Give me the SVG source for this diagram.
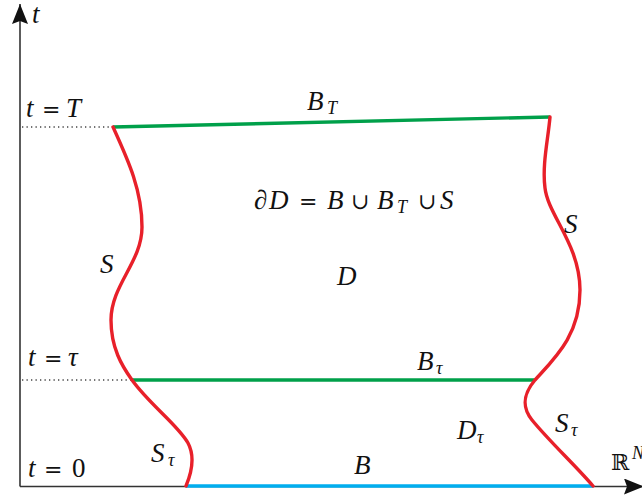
<svg xmlns="http://www.w3.org/2000/svg" width="642" height="500" viewBox="0 0 642 500">
  <style>
    .axis { stroke: #333; stroke-width: 1.6; fill: none; }
    .dots { stroke: #444; stroke-width: 1.3; stroke-dasharray: 1.3 3.2; fill: none; }
    .side { stroke: #e8202a; stroke-width: 3.4; fill: none; stroke-linecap: round; }
    .lid { stroke: #00a04a; stroke-width: 3.4; fill: none; }
    .base { stroke: #00aeef; stroke-width: 3.4; fill: none; }
    text { font-family: "Liberation Serif", "DejaVu Serif", serif; font-size: 27px; fill: #111; }
    .it { font-style: italic; }
    .sub { font-style: italic; font-size: 18px; }
    .op { font-family: "DejaVu Serif", serif; font-size: 22px; font-style: normal; }
  </style>
  <defs>
    <marker id="arrow" viewBox="0 0 20 16" refX="20" refY="8" markerWidth="20" markerHeight="16" markerUnits="userSpaceOnUse" orient="auto">
      <path d="M0,0 L20,8 L0,16 L3,8 Z" fill="#111"/>
    </marker>
  </defs>

  <!-- coordinate axes and level guides -->
  <g id="axes">
    <line class="axis" x1="20" y1="486.5" x2="20" y2="4" marker-end="url(#arrow)"/>
    <line class="axis" x1="20" y1="486.5" x2="644" y2="486.5" marker-end="url(#arrow)"/>
    <line class="dots" x1="22" y1="127" x2="112" y2="127"/>
    <line class="dots" x1="22" y1="380" x2="131" y2="380"/>
  </g>

  <g id="connectors">
    <!-- top lid B_T -->
    <path id="edge-BT" class="lid" d="M113,127 L550,117"/>
    <!-- slice B_tau -->
    <path id="edge-Btau" class="lid" d="M132,380 L535,380"/>
    <!-- bottom B -->
    <path id="edge-B" class="base" d="M186,486 L593,486"/>
    <!-- left lateral boundary -->
    <path id="edge-S-left" class="side" d="M113,127 C128,160 142,190 142,227 C142,262 111,285 111,320 C111,348 122,366 132,380 C150,405 178,425 188,443 C196,458 191,474 186,486"/>
    <!-- right lateral boundary -->
    <path id="edge-S-right" class="side" d="M550,117 C548,140 542,165 545,188 C548,215 580,245 580,290 C580,335 555,358 535,380 C525,392 520,405 532,420 C550,442 575,465 593,486"/>
  </g>

  <!-- axis labels -->
  <g id="label-t-axis"><text class="it" x="32" y="23" font-size="25">t</text></g>
  <g id="label-tT">
    <text x="26" y="117"><tspan class="it">t</tspan><tspan class="op" x="42">=</tspan><tspan class="it" x="66">T</tspan></text>
  </g>
  <g id="label-ttau">
    <text x="28" y="366"><tspan class="it">t</tspan><tspan class="op" x="44">=</tspan><tspan class="it" x="68">τ</tspan></text>
  </g>
  <g id="label-t0">
    <text x="28" y="477"><tspan class="it">t</tspan><tspan class="op" x="44">=</tspan><tspan x="72">0</tspan></text>
  </g>
  <g id="label-RN">
    <text x="611" y="470"><tspan class="op" font-size="25">ℝ</tspan><tspan class="sub" x="632" y="459">N</tspan></text>
  </g>

  <!-- region and boundary labels -->
  <g id="node-BT">
    <text class="it" x="307" y="110">B<tspan class="sub" x="327" y="114">T</tspan></text>
  </g>
  <g id="node-boundary">
    <text x="254" y="209"><tspan class="it">∂</tspan><tspan class="it" x="269">D</tspan><tspan class="op" x="299">=</tspan><tspan class="it" x="327">B</tspan><tspan class="op" x="351">∪</tspan><tspan class="it" x="377">B</tspan><tspan class="sub" x="397" y="213">T</tspan><tspan class="op" x="418" y="209">∪</tspan><tspan class="it" x="440">S</tspan></text>
  </g>
  <g id="node-D"><text class="it" x="337" y="285">D</text></g>
  <g id="node-S-left"><text class="it" x="100" y="273">S</text></g>
  <g id="node-S-right"><text class="it" x="564" y="233">S</text></g>
  <g id="node-Btau">
    <text class="it" x="417" y="370">B<tspan class="sub" x="436" y="374">τ</tspan></text>
  </g>
  <g id="node-Dtau">
    <text class="it" x="457" y="439">D<tspan class="sub" x="477" y="443">τ</tspan></text>
  </g>
  <g id="node-Stau-left">
    <text class="it" x="151" y="462">S<tspan class="sub" x="168" y="466">τ</tspan></text>
  </g>
  <g id="node-Stau-right">
    <text class="it" x="555" y="432">S<tspan class="sub" x="571" y="436">τ</tspan></text>
  </g>
  <g id="node-B"><text class="it" x="354" y="474">B</text></g>
</svg>
